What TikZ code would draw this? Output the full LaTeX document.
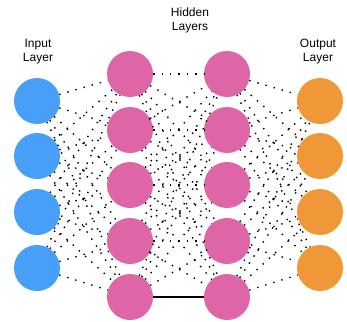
\documentclass[tikz,border=0pt]{standalone}
\usepackage{fontspec}
\setmainfont{Liberation Sans}
\definecolor{inblue}{RGB}{71,159,248}
\definecolor{hidpink}{RGB}{222,102,166}
\definecolor{outorange}{RGB}{240,152,55}
\begin{document}
\begin{tikzpicture}[x=1pt,y=-1pt,
 neuron/.style={circle,minimum size=46pt,inner sep=0pt,draw=none},
 inp/.style={neuron,fill=inblue},
 hid/.style={neuron,fill=hidpink},
 outp/.style={neuron,fill=outorange},
 conn/.style={line width=1.4pt,dash pattern=on 1.4pt off 7pt,black},
 solidconn/.style={line width=2pt,black},
 lbl/.style={font=\fontsize{12}{14}\selectfont,align=center}]
\useasboundingbox (0,0) rectangle (347,321);
\foreach \i/\y in {1/101,2/156,3/212,4/268}{
  \node[inp] (i\i) at (37,\y) {};
  \node[outp] (o\i) at (320,\y) {};
}
\foreach \i/\y in {1/74,2/130,3/185,4/241,5/297}{
  \node[hid] (a\i) at (130,\y) {};
  \node[hid] (b\i) at (227,\y) {};
}
\foreach \i in {1,...,4}{
  \foreach \j in {1,...,5}{
    \draw[conn] (i\i) -- (a\j);
    \draw[conn] (b\j) -- (o\i);
  }
}
\foreach \i in {1,...,5}{
  \foreach \j in {1,...,5}{
    \ifnum\i=5 \ifnum\j=5 \else \draw[conn] (a\i) -- (b\j); \fi
    \else \draw[conn] (a\i) -- (b\j); \fi
  }
}
\draw[solidconn] (a5) -- (b5);
\node[lbl] (hl) at (190,20) {Hidden\\Layers};
\node[lbl] (il) at (38,52) {Input\\Layer};
\node[lbl] (ol) at (318,52) {Output\\Layer};
\end{tikzpicture}
\end{document}
